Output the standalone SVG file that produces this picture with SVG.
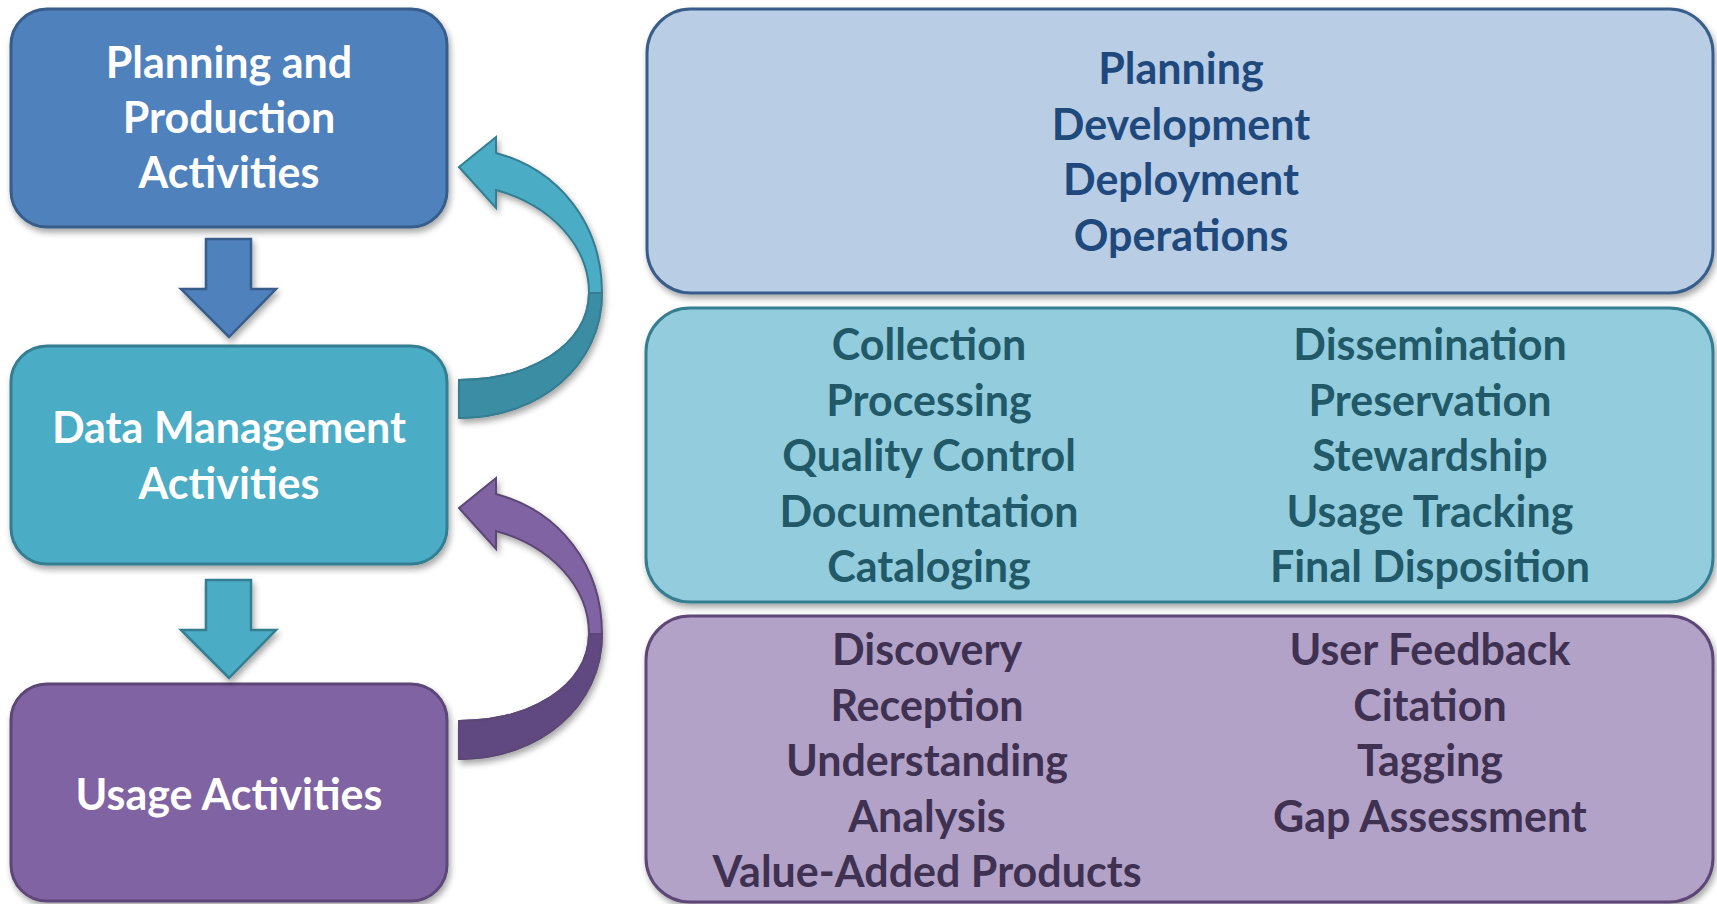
<svg xmlns="http://www.w3.org/2000/svg" width="1717" height="904" viewBox="0 0 1717 904">
  <defs>
    <filter id="shadow" x="-10%" y="-10%" width="120%" height="125%">
      <feDropShadow dx="2" dy="4" stdDeviation="3" flood-color="#000" flood-opacity="0.35"/>
    </filter>
    <style>
      .lbl { font-family: "Lato", "Liberation Sans", sans-serif; font-weight: bold; font-size: 43px; text-anchor: middle; }
      .white { fill: #ffffff; }
      .blue-t { fill: #1F497D; }
      .teal-t { fill: #215968; }
      .purple-t { fill: #3F3151; }
      .box { stroke-width: 3; filter: url(#shadow); }
    </style>
  </defs>

  <!-- left column: activity stages -->
  <g id="node-planning">
    <rect class="box" x="11" y="9" width="436" height="218" rx="36" fill="#4F81BD" stroke="#385D8A"/>
    <text class="lbl white" x="229" y="78">Planning and</text>
    <text class="lbl white" x="229" y="133">Production</text>
    <text class="lbl white" x="229" y="188">Activities</text>
  </g>
  <g id="node-data-management">
    <rect class="box" x="11" y="346" width="436" height="218" rx="36" fill="#4BACC6" stroke="#357D91"/>
    <text class="lbl white" x="229" y="443">Data Management</text>
    <text class="lbl white" x="229" y="499">Activities</text>
  </g>
  <g id="node-usage">
    <rect class="box" x="11" y="684" width="436" height="217" rx="36" fill="#8064A2" stroke="#5C4776"/>
    <text class="lbl white" x="229" y="810">Usage Activities</text>
  </g>

  <!-- right column: activity lists -->
  <g id="node-planning-list">
    <rect class="box" x="647" y="9" width="1066" height="284" rx="44" fill="#B9CDE5" stroke="#385D8A"/>
    <text class="lbl blue-t" x="1181" y="84">Planning</text>
    <text class="lbl blue-t" x="1181" y="139.5">Development</text>
    <text class="lbl blue-t" x="1181" y="195">Deployment</text>
    <text class="lbl blue-t" x="1181" y="250.5">Operations</text>
  </g>
  <g id="node-data-list">
    <rect class="box" x="646" y="308" width="1067" height="294" rx="44" fill="#93CDDD" stroke="#357D91"/>
    <text class="lbl teal-t" x="929" y="360">Collection</text>
    <text class="lbl teal-t" x="929" y="415.5">Processing</text>
    <text class="lbl teal-t" x="929" y="471">Quality Control</text>
    <text class="lbl teal-t" x="929" y="526.5">Documentation</text>
    <text class="lbl teal-t" x="929" y="582">Cataloging</text>
    <text class="lbl teal-t" x="1430" y="360">Dissemination</text>
    <text class="lbl teal-t" x="1430" y="415.5">Preservation</text>
    <text class="lbl teal-t" x="1430" y="471">Stewardship</text>
    <text class="lbl teal-t" x="1430" y="526.5">Usage Tracking</text>
    <text class="lbl teal-t" x="1430" y="582">Final Disposition</text>
  </g>
  <g id="node-usage-list">
    <rect class="box" x="646" y="616" width="1067" height="286" rx="44" fill="#B3A2C7" stroke="#5C4776"/>
    <text class="lbl purple-t" x="927" y="665">Discovery</text>
    <text class="lbl purple-t" x="927" y="720.5">Reception</text>
    <text class="lbl purple-t" x="927" y="776">Understanding</text>
    <text class="lbl purple-t" x="927" y="831.5">Analysis</text>
    <text class="lbl purple-t" x="927" y="887">Value-Added Products</text>
    <text class="lbl purple-t" x="1430" y="665">User Feedback</text>
    <text class="lbl purple-t" x="1430" y="720.5">Citation</text>
    <text class="lbl purple-t" x="1430" y="776">Tagging</text>
    <text class="lbl purple-t" x="1430" y="831.5">Gap Assessment</text>
  </g>

  <!-- connectors: downward block arrows and curved feedback arrows -->
  <g id="connectors">
    <path d="M 206,239 L 251,239 L 251,289 L 276,289 L 229,337 L 181,289 L 206,289 Z" fill="#4F81BD" stroke="#385D8A" stroke-width="2.5" filter="url(#shadow)"/>
    <path d="M 206,580 L 251,580 L 251,630 L 276,630 L 229,678 L 181,630 L 206,630 Z" fill="#4BACC6" stroke="#357D91" stroke-width="2.5" filter="url(#shadow)"/>

    <g id="feedback-data-to-planning" filter="url(#shadow)">
      <path d="M 459,167 L 496,137 L 496,153 C 560,170 602,225 602,293 C 602,365 540,418 459,418 L 459,380 C 530,380 589,345 589,293 C 589,245 550,205 496,190 L 496,208 Z" fill="#4BACC6" stroke="#357D91" stroke-width="2"/>
      <path d="M 602,293 C 602,365 540,418 459,418 L 459,380 C 530,380 589,345 589,293 Z" fill="#3B8DA4" stroke="#357D91" stroke-width="2"/>
    </g>
    <g id="feedback-usage-to-data" filter="url(#shadow)" transform="translate(0,341)">
      <path d="M 459,167 L 496,137 L 496,153 C 560,170 602,225 602,293 C 602,365 540,418 459,418 L 459,380 C 530,380 589,345 589,293 C 589,245 550,205 496,190 L 496,208 Z" fill="#8064A2" stroke="#5C4776" stroke-width="2"/>
      <path d="M 602,293 C 602,365 540,418 459,418 L 459,380 C 530,380 589,345 589,293 Z" fill="#604A80" stroke="#5C4776" stroke-width="2"/>
    </g>
  </g>
</svg>
